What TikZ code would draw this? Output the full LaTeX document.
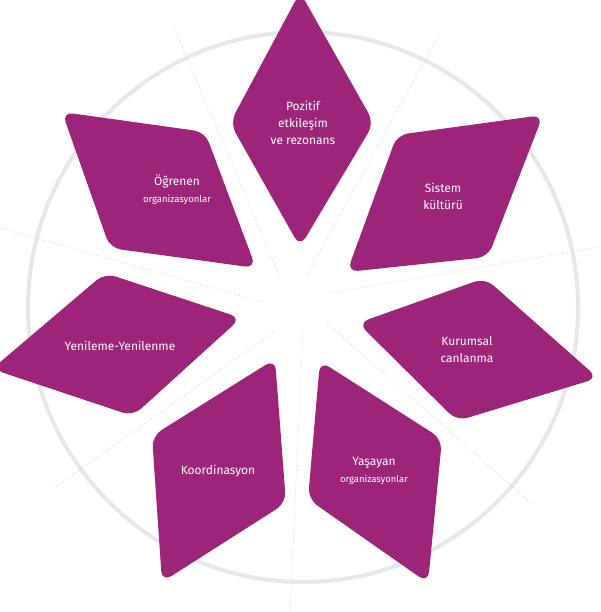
\documentclass[tikz,border=0pt]{standalone}
\usepackage{fontspec}
\setmainfont{Fira Sans}
\definecolor{petal}{HTML}{9C2479}
\definecolor{ring}{HTML}{E6E7E8}
\definecolor{ray}{HTML}{C8C8C8}
\begin{document}
\begin{tikzpicture}[x=1pt,y=-1pt,
  petalshape/.style={fill=petal,rounded corners=11pt},
  lbl/.style={text=white,font=\fontsize{12}{17}\selectfont,align=center,inner sep=0pt},
  sm/.style={font=\fontsize{9.5}{12}\selectfont},
  rayline/.style={draw=ray,line width=0.7pt,dotted}]
\useasboundingbox (0,0) rectangle (600,612);
\fill[white] (0,0) rectangle (600,612);
\coordinate (c) at (303,307);
\draw[ring,line width=4pt] (c) circle[radius=275];
\coordinate (r1a) at (173,25);  \coordinate (r1b) at (280,277);
\coordinate (r2a) at (0,228);   \coordinate (r2b) at (263,302);
\coordinate (r3a) at (440,33);  \coordinate (r3b) at (308,273);
\coordinate (r4a) at (600,247); \coordinate (r4b) at (330,293);
\coordinate (r5a) at (327,323); \coordinate (r5b) at (532,504);
\coordinate (r6a) at (303,330); \coordinate (r6b) at (290,612);
\coordinate (r7a) at (275,331); \coordinate (r7b) at (53,489);
\foreach \i in {1,...,7} \draw[rayline] (r\i a) -- (r\i b);
% petals
\fill[petalshape] (300,-8) -- (374,123) -- (300,247) -- (230,123) -- cycle;
\fill[petalshape] (397,135) -- (543,115) -- (488,257) -- (347,272) -- cycle;
\fill[petalshape] (358,323) -- (485,278) -- (598,378) -- (457,421) -- cycle;
\fill[petalshape] (320,361) -- (442,439) -- (428,583) -- (308,499) -- cycle;
\fill[petalshape] (275,359) -- (286,503) -- (162,582) -- (152,436) -- cycle;
\fill[petalshape] (105,273) -- (241,318) -- (133,416) -- (-8,369) -- cycle;
\fill[petalshape] (62,112) -- (205,132) -- (256,268) -- (110,248) -- cycle;
% labels
\node[lbl] (p1) at (303,123) {Pozitif\\etkileşim\\ve rezonans};
\node[lbl] (p2) at (443,196) {Sistem\\kültürü};
\node[lbl] (p3) at (467,350) {Kurumsal\\canlanma};
\node[lbl] (p4) at (374,471) {Yaşayan\\{\fontsize{9.5}{12}\selectfont organizasyonlar}};
\node[lbl] (p5) at (218,471) {Koordinasyon};
\node[lbl] (p6) at (120,346) {Yenileme-Yenilenme};
\node[lbl] (p7) at (177,190) {Öğrenen\\{\fontsize{9.5}{12}\selectfont organizasyonlar}};
\end{tikzpicture}
\end{document}
